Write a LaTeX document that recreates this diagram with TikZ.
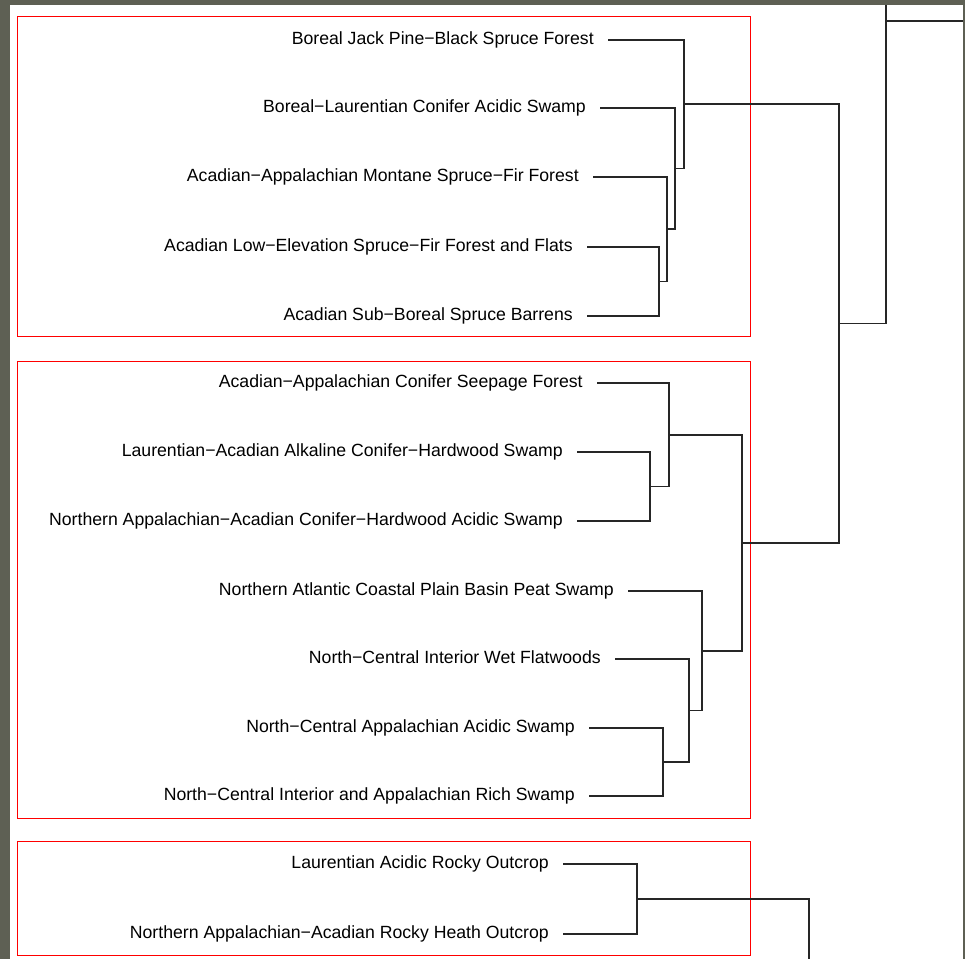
\documentclass[tikz,border=0pt]{standalone}
\usepackage{fontspec}
\setmainfont{Liberation Sans}
\definecolor{frame}{RGB}{94,96,84}
\definecolor{boxred}{RGB}{255,0,0}
\tikzset{
  leaf/.style={anchor=east, inner xsep=10.5pt, inner ysep=0pt, text height=6.4pt, text depth=0pt,
    font=\fontsize{13.25}{15}\selectfont},
  branch/.style={draw=black!85, line width=0.9pt},
  group/.style={draw=boxred, line width=0.9pt},
}
\begin{document}
\begin{tikzpicture}[x=0.75pt, y=-0.75pt]
  \useasboundingbox (0,0) rectangle (965,959);
  \fill[frame] (0,0) rectangle (965,959);
  \fill[white] (10,5) rectangle (963,959);

  % groups
  \draw[group] (17.5,16.5) rectangle (750.5,336.5);
  \draw[group] (17.5,361.5) rectangle (750.5,818.5);
  \draw[group] (17.5,841.5) rectangle (750.5,955.5);

  % leaves
  \foreach \n/\x/\y/\t in {
    l1/608/40/{Boreal Jack Pine−Black Spruce Forest},
    l2/600/108/{Boreal−Laurentian Conifer Acidic Swamp},
    l3/593/177/{Acadian−Appalachian Montane Spruce−Fir Forest},
    l4/587/247/{Acadian Low−Elevation Spruce−Fir Forest and Flats},
    l5/587/316/{Acadian Sub−Boreal Spruce Barrens},
    l6/597/383/{Acadian−Appalachian Conifer Seepage Forest},
    l7/577/452/{Laurentian−Acadian Alkaline Conifer−Hardwood Swamp},
    l8/577/521/{Northern Appalachian−Acadian Conifer−Hardwood Acidic Swamp},
    l9/628/591/{Northern Atlantic Coastal Plain Basin Peat Swamp},
    l10/615/659/{North−Central Interior Wet Flatwoods},
    l11/589/728/{North−Central Appalachian Acidic Swamp},
    l12/589/796/{North−Central Interior and Appalachian Rich Swamp},
    l13/563/864/{Laurentian Acidic Rocky Outcrop},
    l14/563/934/{Northern Appalachian−Acadian Rocky Heath Outcrop}} {
    \node[leaf] (\n) at (\x,\y) {\t};
  }

  % joins
  \coordinate (j45) at (659,281.5);
  \coordinate (j345) at (667,229);
  \coordinate (j25) at (675,168.5);
  \coordinate (j15) at (684,104);
  \coordinate (j78) at (650,486.5);
  \coordinate (j678) at (669,435);
  \coordinate (j1112) at (663,762);
  \coordinate (j1012) at (689,710.5);
  \coordinate (j912) at (702,651);
  \coordinate (j612) at (742,543);
  \coordinate (jab) at (839,323.5);
  \coordinate (j1314) at (637,899);
  \coordinate (up) at (886,5);
  \coordinate (tl) at (886,21);
  \coordinate (tr) at (963,21);
  \coordinate (down) at (809,959);

  \foreach \j/\a/\b in {j45/l4.east/l5.east, j345/l3.east/j45, j25/l2.east/j345,
    j15/l1.east/j25, j78/l7.east/l8.east, j678/l6.east/j78, j1112/l11.east/l12.east,
    j1012/l10.east/j1112, j912/l9.east/j1012, j612/j678/j912, jab/j15/j612,
    j1314/l13.east/l14.east} {
    \draw[branch] (\a) -| (\j) |- (\b);
  }
  \draw[branch] (jab) -| (up);
  \draw[branch] (tl) -- (tr);
  \draw[branch] (j1314) -| (down);
\end{tikzpicture}
\end{document}
